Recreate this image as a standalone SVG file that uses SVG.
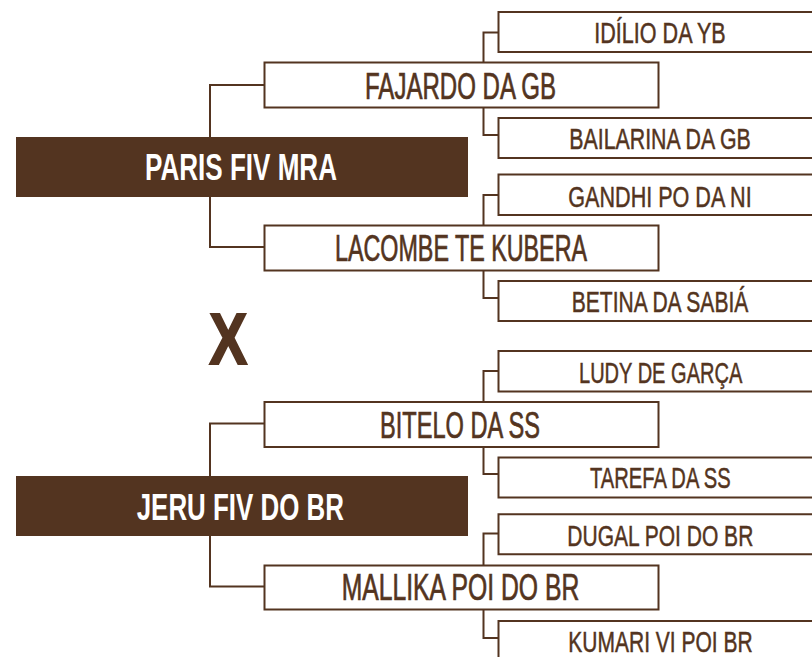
<svg xmlns="http://www.w3.org/2000/svg" width="812" height="657" viewBox="0 0 812 657">
<style>
.bg{fill:#ffffff}
.wire{fill:none;stroke:#533420;stroke-width:2}
.box{fill:#ffffff;stroke:#533420;stroke-width:2}
.cbox{fill:#ffffff;stroke:none}
.edge{fill:none;stroke:#533420;stroke-width:2}
.main{fill:#533420}
.t{font-family:"Liberation Sans",Arial,sans-serif;fill:#533420;stroke:#533420;stroke-width:0.7}
.pl{font-size:37px}
.sl{font-size:24px;stroke-width:0.4}
.ml{font-family:"Liberation Sans",Arial,sans-serif;font-weight:bold;font-size:36px;fill:#ffffff}
.x{font-family:"Liberation Sans",Arial,sans-serif;font-weight:bold;font-size:73px;fill:#533420;stroke:#533420;stroke-width:2}
</style>
<rect class="bg" x="0" y="0" width="812" height="657"/>
<g id="connectors">
<path class="wire" d="M264,85 H210 V247 H264"/>
<path class="wire" d="M264,423.5 H210 V586.5 H264"/>
<path class="wire" d="M498,32.5 H483.5 V135 H498"/>
<path class="wire" d="M498,195 H483.5 V298 H498"/>
<path class="wire" d="M498,371 H483.5 V474 H498"/>
<path class="wire" d="M498,533.5 H483.5 V638 H498"/>
</g>
<g id="paris">
<rect class="main" x="16" y="137" width="452" height="60"/>
<text class="ml" x="145" y="180" textLength="192" lengthAdjust="spacingAndGlyphs">PARIS FIV MRA</text>
</g>
<g id="fajardo">
<rect class="box" x="264.5" y="62.5" width="394" height="45"/>
<text class="t pl" x="365" y="99" textLength="191" lengthAdjust="spacingAndGlyphs">FAJARDO DA GB</text>
</g>
<g id="lacombe">
<rect class="box" x="264.5" y="225.5" width="394" height="45"/>
<text class="t pl" x="335" y="261" textLength="252" lengthAdjust="spacingAndGlyphs">LACOMBE TE KUBERA</text>
</g>
<g id="idilio">
<rect class="cbox" x="498.5" y="12" width="313.5" height="40"/>
<path class="edge" d="M812,12 H498.5 V52 H812"/>
<text class="t sl" transform="translate(594.3,43.3) scale(1,1.222)" x="0" y="0" textLength="131.4" lengthAdjust="spacingAndGlyphs">IDÍLIO DA YB</text>
</g>
<g id="bailarina">
<rect class="cbox" x="498.5" y="118" width="313.5" height="40"/>
<path class="edge" d="M812,118 H498.5 V158 H812"/>
<text class="t sl" transform="translate(569.3,149) scale(1,1.222)" x="0" y="0" textLength="181.4" lengthAdjust="spacingAndGlyphs">BAILARINA DA GB</text>
</g>
<g id="gandhi">
<rect class="cbox" x="498.5" y="174.5" width="313.5" height="40.5"/>
<path class="edge" d="M812,174.5 H498.5 V215 H812"/>
<text class="t sl" transform="translate(568.3,206.5) scale(1,1.222)" x="0" y="0" textLength="183.4" lengthAdjust="spacingAndGlyphs">GANDHI PO DA NI</text>
</g>
<g id="betina">
<rect class="cbox" x="498.5" y="281" width="313.5" height="40"/>
<path class="edge" d="M812,281 H498.5 V321 H812"/>
<text class="t sl" transform="translate(571.7,311.5) scale(1,1.222)" x="0" y="0" textLength="176.6" lengthAdjust="spacingAndGlyphs">BETINA DA SABIÁ</text>
</g>
<text id="versus" class="x" x="209.3" y="364" textLength="38" lengthAdjust="spacingAndGlyphs">X</text>
<g id="jeru">
<rect class="main" x="16" y="476" width="452" height="60"/>
<text class="ml" x="136.7" y="520" textLength="207.3" lengthAdjust="spacingAndGlyphs">JERU FIV DO BR</text>
</g>
<g id="bitelo">
<rect class="box" x="264.5" y="402" width="394" height="45"/>
<text class="t pl" x="380" y="438.3" textLength="160" lengthAdjust="spacingAndGlyphs">BITELO DA SS</text>
</g>
<g id="mallika">
<rect class="box" x="264.5" y="565.5" width="394" height="44"/>
<text class="t pl" x="341.7" y="600" textLength="237.6" lengthAdjust="spacingAndGlyphs">MALLIKA POI DO BR</text>
</g>
<g id="ludy">
<rect class="cbox" x="498.5" y="351" width="313.5" height="40.5"/>
<path class="edge" d="M812,351 H498.5 V391.5 H812"/>
<text class="t sl" transform="translate(579,383.3) scale(1,1.222)" x="0" y="0" textLength="163.3" lengthAdjust="spacingAndGlyphs">LUDY DE GARÇA</text>
</g>
<g id="tarefa">
<rect class="cbox" x="498.5" y="457.5" width="313.5" height="40"/>
<path class="edge" d="M812,457.5 H498.5 V497.5 H812"/>
<text class="t sl" transform="translate(590,488.3) scale(1,1.222)" x="0" y="0" textLength="140.7" lengthAdjust="spacingAndGlyphs">TAREFA DA SS</text>
</g>
<g id="dugal">
<rect class="cbox" x="498.5" y="514.3" width="313.5" height="40"/>
<path class="edge" d="M812,514.3 H498.5 V554.3 H812"/>
<text class="t sl" transform="translate(567.3,545.7) scale(1,1.222)" x="0" y="0" textLength="186" lengthAdjust="spacingAndGlyphs">DUGAL POI DO BR</text>
</g>
<g id="kumari">
<rect class="cbox" x="498.5" y="621" width="313.5" height="36"/>
<path class="edge" d="M812,621 H498.5 V657"/>
<text class="t sl" transform="translate(568.3,651.7) scale(1,1.222)" x="0" y="0" textLength="184.4" lengthAdjust="spacingAndGlyphs">KUMARI VI POI BR</text>
</g>
</svg>
